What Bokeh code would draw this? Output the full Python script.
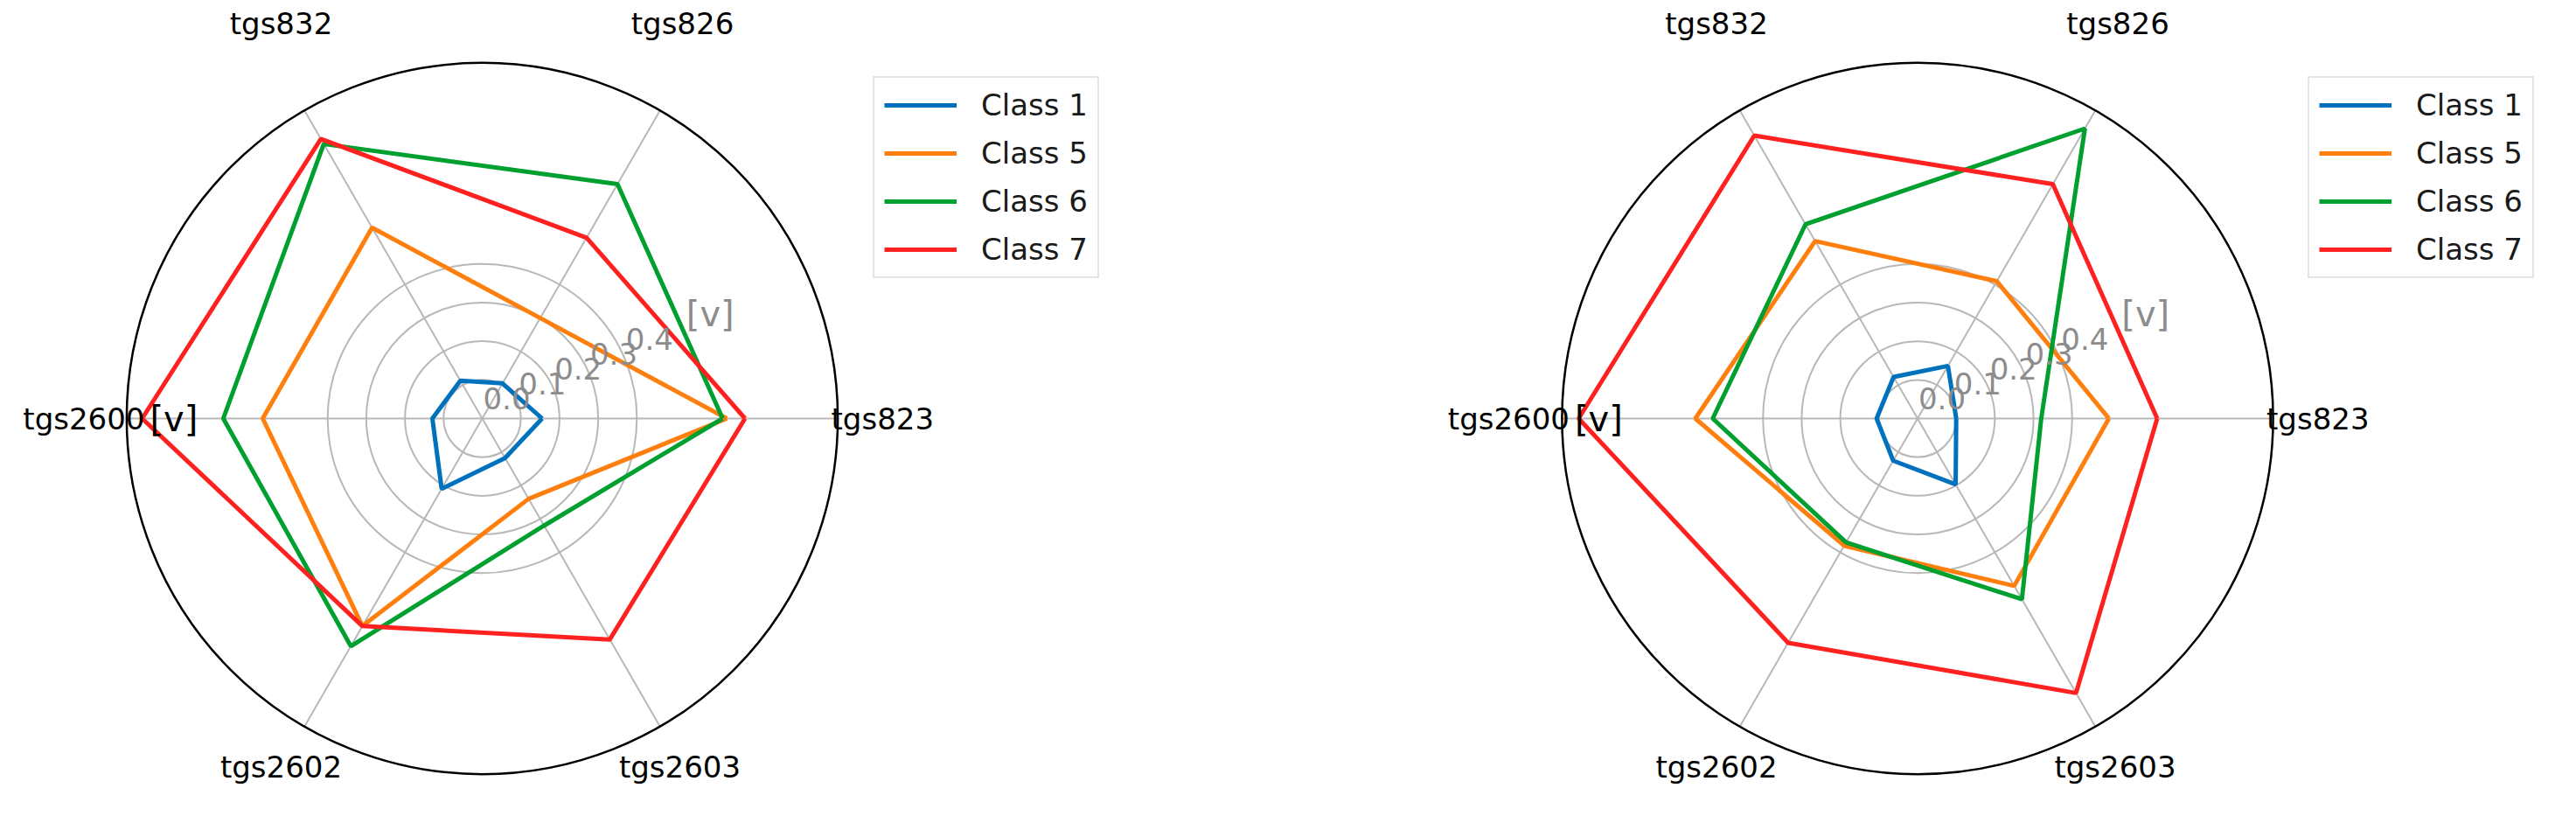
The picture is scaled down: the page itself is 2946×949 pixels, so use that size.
import numpy as np
from bokeh.plotting import figure
from bokeh.models import Range1d, Legend, LegendItem
from bokeh.core.properties import value
from bokeh.embed import file_html
from bokeh.resources import INLINE

# ---------------- data ----------------
sensors = ["tgs823", "tgs826", "tgs832", "tgs2600", "tgs2602", "tgs2603"]
classes = ["Class 1", "Class 5", "Class 6", "Class 7"]

left_class1 = [0.155, 0.105, 0.113, 0.129, 0.21, 0.118]
left_class5 = [0.633, 0.30, 0.57, 0.568, 0.62, 0.24]
left_class6 = [0.622, 0.70, 0.82, 0.67, 0.68, 0.32]
left_class7 = [0.68, 0.54, 0.835, 0.88, 0.62, 0.66]

right_class1 = [0.10, 0.157, 0.124, 0.106, 0.126, 0.197]
right_class5 = [0.495, 0.41, 0.53, 0.575, 0.38, 0.50]
right_class6 = [0.32, 0.866, 0.58, 0.53, 0.37, 0.54]
right_class7 = [0.62, 0.70, 0.845, 0.877, 0.67, 0.82]

r_ticks = [0.0, 0.1, 0.2, 0.3, 0.4]
r_tick_labels = ["0.0", "0.1", "0.2", "0.3", "0.4"]
unit_label = "[v]"
r_max = 0.92

colors = ["#0072bd", "#ff7f0e", "#00a030", "#ff2020"]

# ---------------- layout ----------------
S = 442.0                 # pixels per value unit
W, H = 2930, 933
LEFT_CX_PX, CY_PX = 551.0, 478.0
RIGHT_CX_PX = 2192.5

p = figure(width=W, height=H, output_backend="svg", toolbar_location=None,
           x_range=Range1d(-LEFT_CX_PX / S, (W - LEFT_CX_PX) / S),
           y_range=Range1d(-(H - CY_PX) / S, CY_PX / S),
           x_axis_type=None, y_axis_type=None, min_border=0,
           match_aspect=False)
p.grid.visible = False
p.outline_line_color = None
p.background_fill_color = "white"
p.border_fill_color = "white"

angles = np.deg2rad(np.arange(len(sensors)) * 60.0)
FONT = value("DejaVu Sans")


def px(v):
    return v / S


def draw_radar(cx, series, label_nudge):
    # rings
    ring_r = [t for t in r_ticks if t > 0]
    p.circle(x=[cx] * len(ring_r), y=[0] * len(ring_r), radius=ring_r,
             fill_color=None, line_color="#b8b8b8", line_width=2)
    # spokes
    p.segment(x0=[cx] * len(angles), y0=[0] * len(angles),
              x1=cx + r_max * np.cos(angles), y1=r_max * np.sin(angles),
              line_color="#b8b8b8", line_width=2)
    # outer circle
    p.circle(x=[cx], y=[0], radius=[r_max], fill_color=None,
             line_color="black", line_width=2.5)
    # series
    rends = []
    for vals, col in zip(series, colors):
        v = np.array(vals + vals[:1])
        a = np.concatenate([angles, angles[:1]])
        r = p.line(cx + v * np.cos(a), v * np.sin(a), line_color=col,
                   line_width=5)
        rends.append(r)
    # radial tick labels along 22.5 deg
    ta = np.deg2rad(22.5)
    tr = np.array(r_ticks)
    p.text(x=cx + tr * np.cos(ta), y=tr * np.sin(ta), text=r_tick_labels,
           x_offset=28, y_offset=-23, text_align="center",
           text_baseline="middle", text_font=FONT, text_font_size="34px",
           text_color="#8c8c8c")
    ur = 0.57
    p.text(x=[cx + ur * np.cos(ta)], y=[ur * np.sin(ta)], text=[unit_label],
           x_offset=28, y_offset=-23, text_align="center",
           text_baseline="middle", text_font=FONT, text_font_size="40px",
           text_color="#8c8c8c")
    # category labels
    lab_pos = {
        "tgs823": (399, 0, "left"),
        "tgs826": (229, 452, "center"),
        "tgs832": (-230, 452, "center"),
        "tgs2600": (-392 + label_nudge, 0, "right"),
        "tgs2602": (-230, -398, "center"),
        "tgs2603": (226, -398, "center"),
    }
    for s in sensors:
        dx, dy, al = lab_pos[s]
        p.text(x=[cx + px(dx)], y=[px(dy)], text=[s], text_align=al,
               text_baseline="middle", text_font=FONT,
               text_font_size="34px", text_color="black")
    # black unit label on the left
    p.text(x=[cx + px(-386 + label_nudge)], y=[0], text=[unit_label],
           text_align="left", text_baseline="middle", text_font=FONT,
           text_font_size="40px", text_color="black")
    return rends


left_rends = draw_radar(0.0, [left_class1, left_class5, left_class6, left_class7], 6)
rcx = (RIGHT_CX_PX - LEFT_CX_PX) / S
right_rends = draw_radar(rcx, [right_class1, right_class5, right_class6, right_class7], -6)


def make_legend(rends, left_px):
    lg = Legend(items=[LegendItem(label=c, renderers=[r]) for c, r in zip(classes, rends)],
                location=(left_px, H - 318),
                label_text_font="DejaVu Sans", label_text_font_size="34px",
                label_text_color="#1a1a1a",
                glyph_width=83, glyph_height=40, label_height=40,
                spacing=15, padding=11, margin=0, label_standoff=28,
                border_line_color="#cccccc", border_line_width=2,
                background_fill_color="white", background_fill_alpha=1.0)
    p.add_layout(lg)


make_legend(left_rends, 998)
make_legend(right_rends, 2639)

open("out.html", "w").write(file_html(p, INLINE))
